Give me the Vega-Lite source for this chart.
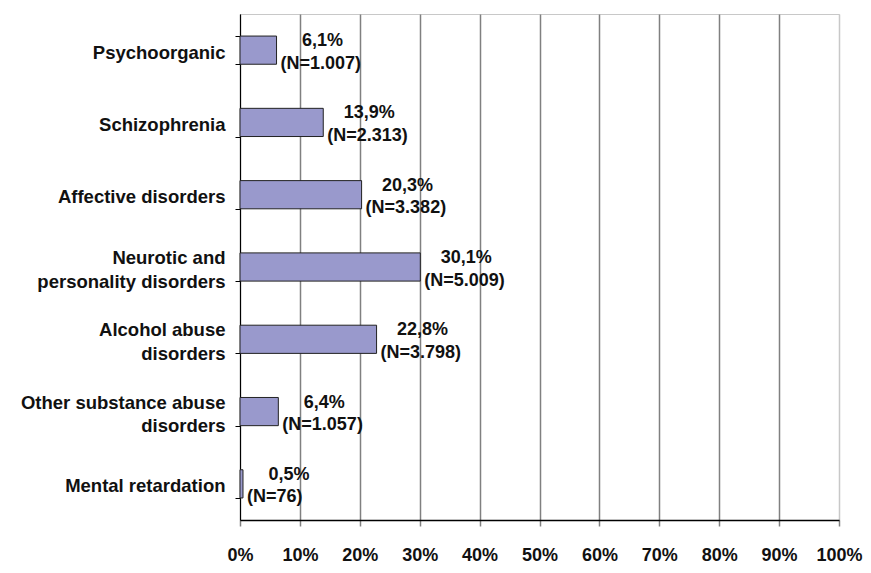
{
  "$schema": "https://vega.github.io/schema/vega-lite/v6.json",
  "width": 599,
  "height": 506,
  "autosize": "none",
  "padding": {"left": 240, "top": 14, "right": 32, "bottom": 53},
  "background": "white",
  "config": {
    "font": "Liberation Sans",
    "view": {"stroke": "#c8c8c8", "strokeWidth": 1}
  },
  "data": {
    "values": [
      {"category": "Psychoorganic", "pct": 6.1, "pctLabel": "6,1%", "nLabel": "(N=1.007)"},
      {"category": "Schizophrenia", "pct": 13.9, "pctLabel": "13,9%", "nLabel": "(N=2.313)"},
      {"category": "Affective disorders", "pct": 20.3, "pctLabel": "20,3%", "nLabel": "(N=3.382)"},
      {"category": "Neurotic and|personality disorders", "pct": 30.1, "pctLabel": "30,1%", "nLabel": "(N=5.009)"},
      {"category": "Alcohol abuse|disorders", "pct": 22.8, "pctLabel": "22,8%", "nLabel": "(N=3.798)"},
      {"category": "Other substance abuse|disorders", "pct": 6.4, "pctLabel": "6,4%", "nLabel": "(N=1.057)"},
      {"category": "Mental retardation", "pct": 0.5, "pctLabel": "0,5%", "nLabel": "(N=76)"}
    ]
  },
  "encoding": {
    "y": {
      "field": "category",
      "type": "nominal",
      "sort": null,
      "scale": {"paddingInner": 0.61, "paddingOuter": 0.305},
      "axis": {
        "title": null,
        "labelExpr": "split(datum.label, '|')",
        "labelFont": "Liberation Sans",
        "labelFontSize": 18.5,
        "labelFontWeight": "bold",
        "labelColor": "#111111",
        "labelLineHeight": 23.5,
        "labelBaseline": "middle",
        "labelOffset": {"condition": {"test": "indexof('' + datum.value, '|') >= 0", "value": -9.5}, "value": 2},
        "labelPadding": 10,
        "labelLimit": 300,
        "tickBand": "extent",
        "tickSize": 5,
        "tickColor": "#000000",
        "domainColor": "#000000",
        "domainWidth": 1,
        "grid": false
      }
    }
  },
  "layer": [
    {
      "mark": {"type": "bar", "fill": "#9999cc", "stroke": "#222222", "strokeWidth": 1},
      "encoding": {
        "x": {
          "field": "pct",
          "type": "quantitative",
          "scale": {"domain": [0, 100], "nice": false},
          "axis": {
            "title": null,
            "values": [0, 10, 20, 30, 40, 50, 60, 70, 80, 90, 100],
            "labelExpr": "datum.value + '%'",
            "labelFont": "Liberation Sans",
            "labelFontSize": 18,
            "labelFontWeight": "bold",
            "labelColor": "#111111",
            "labelPadding": 20,
            "labelFlush": false,
            "labelOverlap": false,
            "tickSize": 6,
            "tickColor": "#808080",
            "tickWidth": 1.5,
            "domainColor": "#000000",
            "domainWidth": 1.5,
            "grid": true,
            "gridColor": {"condition": {"test": "datum.value === 100", "value": "#c8c8c8"}, "value": "#808080"},
            "gridWidth": 1.5,
            "gridOpacity": 1
          }
        }
      }
    },
    {
      "mark": {"type": "text", "align": "center", "baseline": "middle", "dx": 46, "dy": -9, "fontSize": 18, "fontWeight": "bold", "font": "Liberation Sans", "color": "#111111"},
      "encoding": {
        "x": {"field": "pct", "type": "quantitative"},
        "text": {"field": "pctLabel"}
      }
    },
    {
      "mark": {"type": "text", "align": "left", "baseline": "middle", "dx": 4, "dy": 13.5, "fontSize": 18, "fontWeight": "bold", "font": "Liberation Sans", "color": "#111111"},
      "encoding": {
        "x": {"field": "pct", "type": "quantitative"},
        "text": {"field": "nLabel"}
      }
    }
  ]
}
